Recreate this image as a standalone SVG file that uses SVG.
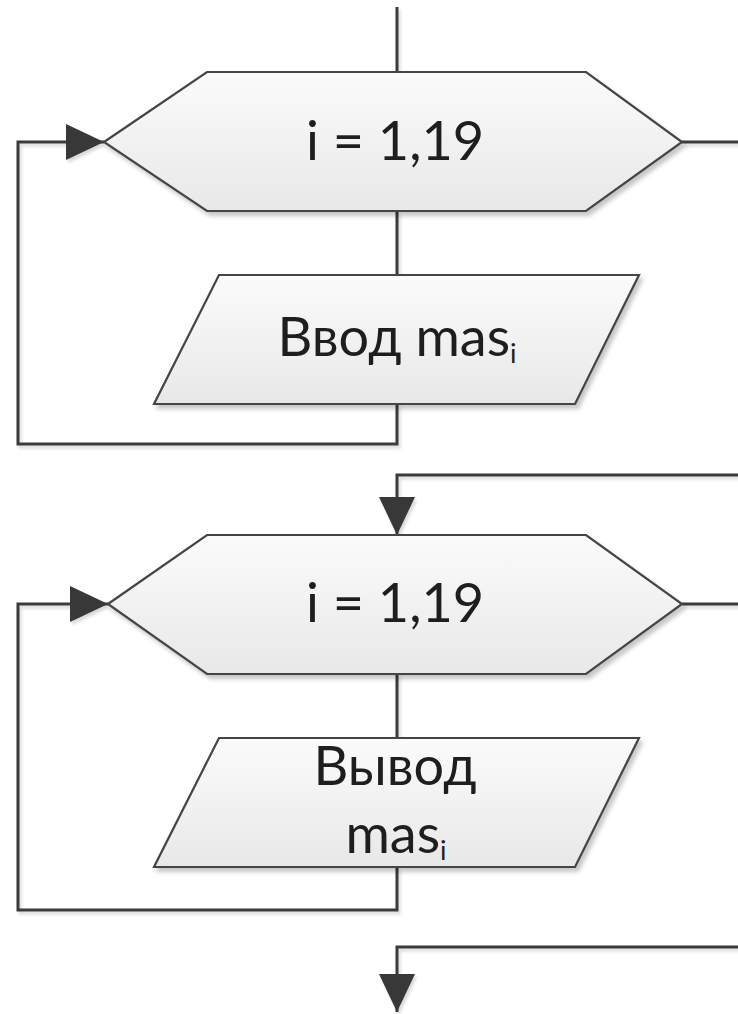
<svg xmlns="http://www.w3.org/2000/svg" width="738" height="1014" viewBox="0 0 738 1014">
  <defs>
    <linearGradient id="fillGrad" x1="0" y1="0" x2="0" y2="1">
      <stop offset="0" stop-color="#fbfbfb"/>
      <stop offset="1" stop-color="#e8e8e8"/>
    </linearGradient>
    <filter id="shadow" x="-10%" y="-10%" width="130%" height="140%">
      <feDropShadow dx="3" dy="4" stdDeviation="2" flood-color="#000" flood-opacity="0.22"/>
    </filter>
    <filter id="lineShadow" x="-5%" y="-5%" width="110%" height="110%">
      <feDropShadow dx="2" dy="3" stdDeviation="1.5" flood-color="#000" flood-opacity="0.15"/>
    </filter>
    <marker id="arrow" markerUnits="userSpaceOnUse" markerWidth="40" markerHeight="38" refX="38" refY="18" orient="auto">
      <path d="M0,0 L38,18 L0,36 Z" fill="#383838"/>
    </marker>
  </defs>
  <style>
    .shape { fill: url(#fillGrad); stroke: #444444; stroke-width: 2.2; filter: url(#shadow); }
    .conn { fill: none; stroke: #3a3a3a; stroke-width: 3; }
    .lbl { font-family: Lato, "Liberation Sans", sans-serif; font-size: 54px; fill: #1e1e1e; text-anchor: middle; }
    .sub { font-size: 27px; }
  </style>

  <g id="connectors" filter="url(#lineShadow)">
    <path class="conn" d="M397,7 V72"/>
    <path class="conn" d="M397,211 V275"/>
    <path class="conn" d="M397,404 V444 H18 V142 H104" marker-end="url(#arrow)"/>
    <path class="conn" d="M682,142 H738"/>
    <path class="conn" d="M738,475 H397 V535" marker-end="url(#arrow)"/>
    <path class="conn" d="M397,674 V738"/>
    <path class="conn" d="M397,867 V910 H18 V604 H108" marker-end="url(#arrow)"/>
    <path class="conn" d="M682,604 H738"/>
    <path class="conn" d="M738,947 H397 V1012" marker-end="url(#arrow)"/>
  </g>

  <g id="loop1">
    <polygon class="shape" points="104,142 207,72 586,72 682,142 586,211 207,211"/>
    <text class="lbl" x="395" y="160">i = 1,19</text>
  </g>

  <g id="input1">
    <polygon class="shape" points="219,275 639,275 575,404 154,404"/>
    <text class="lbl" x="397" y="356">Ввод mas<tspan class="sub" dy="7">i</tspan></text>
  </g>

  <g id="loop2">
    <polygon class="shape" points="108,604 207,535 586,535 682,604 586,674 207,674"/>
    <text class="lbl" x="395" y="622">i = 1,19</text>
  </g>

  <g id="output2">
    <polygon class="shape" points="219,738 639,738 575,867 154,867"/>
    <text class="lbl" x="395" y="785">Вывод</text>
    <text class="lbl" x="396" y="853">mas<tspan class="sub" dy="7">i</tspan></text>
  </g>
</svg>
